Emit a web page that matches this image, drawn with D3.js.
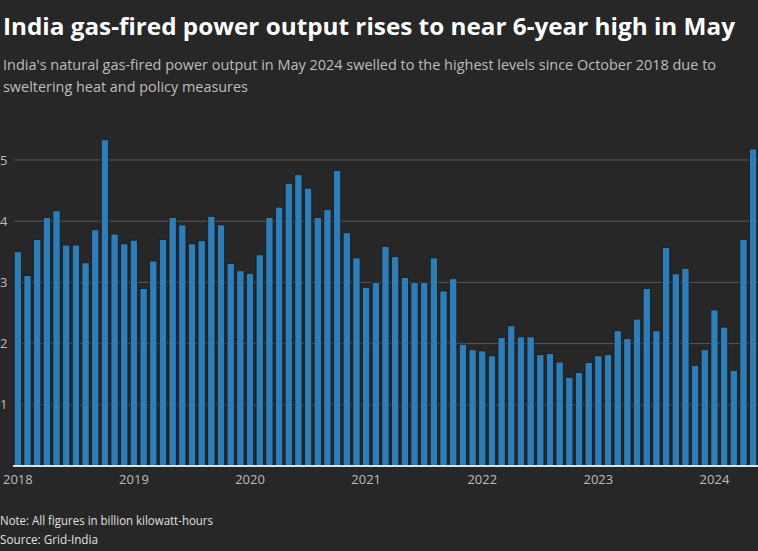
<!DOCTYPE html>
<html>
<head>
<meta charset="utf-8">
<script src="https://cdn.jsdelivr.net/npm/d3@7"></script>
<style>
  html, body { margin: 0; padding: 0; background: #272727; }
  svg { display: block; }
</style>
</head>
<body>
<div id="chart"></div>
<script>
const chartEl = "#chart";
const width = 758;
const height = 551;

// Monthly gas-fired output, billion kWh, Jan 2018 .. May 2024
const output = [
  3.50, 3.11, 3.70, 4.06, 4.17, 3.61, 3.61, 3.32, 3.86, 5.33, 3.79, 3.63,  // 2018
  3.69, 2.90, 3.35, 3.70, 4.06, 3.94, 3.63, 3.68, 4.08, 3.94, 3.31, 3.19,  // 2019
  3.15, 3.45, 4.06, 4.23, 4.62, 4.76, 4.54, 4.06, 4.19, 4.83, 3.81, 3.40,  // 2020
  2.92, 3.00, 3.59, 3.42, 3.08, 3.00, 3.00, 3.40, 2.86, 3.06, 1.99, 1.90,  // 2021
  1.88, 1.80, 2.10, 2.29, 2.11, 2.11, 1.82, 1.84, 1.70, 1.45, 1.53, 1.69,  // 2022
  1.80, 1.82, 2.21, 2.08, 2.40, 2.90, 2.21, 3.57, 3.14, 3.23, 1.64, 1.90,  // 2023
  2.55, 2.27, 1.56, 3.70, 5.18                                             // 2024
];
const years = [2018, 2019, 2020, 2021, 2022, 2023, 2024];
const yTicks = [1, 2, 3, 4, 5];

// month keys like "2018-01" for each value
const months = output.map(function(d, i) {
  return (2018 + Math.floor(i / 12)) + "-" + String(i % 12 + 1).padStart(2, "0");
});

const title = "India gas-fired power output rises to near 6-year high in May";
const subtitle = [
  "India's natural gas-fired power output in May 2024 swelled to the highest levels since October 2018 due to",
  "sweltering heat and policy measures"
];
const notes = ["Note: All figures in billion kilowatt-hours", "Source: Grid-India"];

const barColor = "#2f7db4";
const font = "'Open Sans', 'Noto Sans', sans-serif";

const plot = { left: 13, right: 758, top: 130, bottom: 466 };

const svg = d3.select(chartEl).append("svg")
    .attr("width", width)
    .attr("height", height)
    .attr("viewBox", "0 0 " + width + " " + height)
    .style("font-family", font);

svg.append("rect").attr("width", width).attr("height", height).attr("fill", "#272727");

// titles
svg.append("text")
    .attr("x", 3).attr("y", 35)
    .attr("fill", "#ffffff")
    .attr("font-size", 23).attr("font-weight", 700)
    .attr("textLength", 732).attr("lengthAdjust", "spacingAndGlyphs")
    .text(title);

svg.selectAll(".subtitle")
    .data(subtitle)
    .join("text")
    .attr("class", "subtitle")
    .attr("x", 3)
    .attr("y", function(d, i) { return 70 + i * 22; })
    .attr("fill", "#bdbdbd")
    .attr("font-size", 14.5)
    .attr("textLength", function(d, i) { return i == 0 ? 713 : 245; })
    .attr("lengthAdjust", "spacingAndGlyphs")
    .text(function(d) { return d; });

const x = d3.scaleBand()
    .domain(months)
    .range([plot.left, plot.right])
    .paddingInner(0.25)
    .paddingOuter(0.125);

const y = d3.scaleLinear()
    .domain([0, 5.49])
    .range([plot.bottom, plot.top]);

// gridlines + y labels
const grid = svg.append("g");
grid.selectAll("line")
    .data(yTicks)
    .join("line")
    .attr("x1", 14).attr("x2", width)
    .attr("y1", function(d) { return y(d); })
    .attr("y2", function(d) { return y(d); })
    .attr("stroke", "#5a5a5a")
    .attr("stroke-width", 1);
grid.selectAll("text")
    .data(yTicks)
    .join("text")
    .attr("x", 0)
    .attr("y", function(d) { return y(d); })
    .attr("dy", "0.35em")
    .attr("fill", "#bdbdbd")
    .attr("font-size", 13)
    .text(function(d) { return d; });

// bars
svg.append("g")
    .selectAll("rect")
    .data(output)
    .join("rect")
    .attr("x", function(d, i) { return x(months[i]); })
    .attr("y", function(d) { return y(d); })
    .attr("width", x.bandwidth())
    .attr("height", function(d) { return y(0) - y(d); })
    .attr("fill", barColor)
    .attr("stroke", "#0f1c26")
    .attr("stroke-width", 0.8);

// baseline
svg.append("line")
    .attr("x1", plot.left).attr("x2", width)
    .attr("y1", y(0)).attr("y2", y(0))
    .attr("stroke", "#d6e4f0")
    .attr("stroke-width", 2);

// x axis: year labels centred on January bars
const xAxis = d3.axisBottom(x)
    .tickValues(years.map(function(yr) { return yr + "-01"; }))
    .tickFormat(function(d) { return d.slice(0, 4); })
    .tickSize(0)
    .tickPadding(9);
const xg = svg.append("g")
    .attr("transform", "translate(0," + y(0) + ")")
    .call(xAxis);
xg.select(".domain").remove();
xg.selectAll("text")
    .attr("fill", "#bdbdbd")
    .attr("font-size", 13)
    .attr("font-family", font);

// notes
svg.selectAll(".note")
    .data(notes)
    .join("text")
    .attr("class", "note")
    .attr("x", 0)
    .attr("y", function(d, i) { return 525 + i * 19; })
    .attr("fill", "#e0e0e0")
    .attr("font-size", 12)
    .attr("textLength", function(d, i) { return i == 0 ? 213 : 98; })
    .attr("lengthAdjust", "spacingAndGlyphs")
    .text(function(d) { return d; });
</script>
</body>
</html>
